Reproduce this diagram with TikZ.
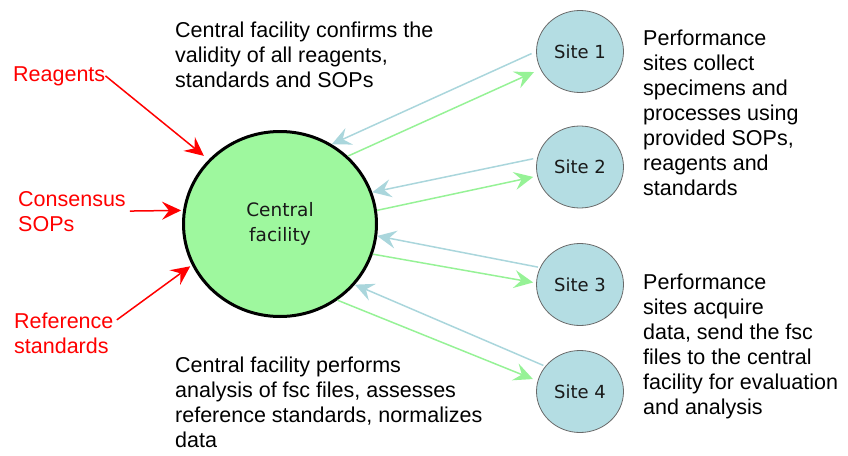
\documentclass[tikz,border=0pt]{standalone}
\usepackage{fontspec}
\setmainfont{Liberation Sans}
\newfontfamily\sitefont{DejaVu Sans}
\usepackage{xcolor}
\usetikzlibrary{positioning}
\usetikzlibrary{shapes.geometric}
\usetikzlibrary{arrows.meta}

\definecolor{facgreen}{RGB}{158,248,158}
\definecolor{sendgreen}{RGB}{150,242,150}
\definecolor{siteblue}{RGB}{180,221,227}
\definecolor{backblue}{RGB}{170,214,220}
\definecolor{rimgray}{RGB}{105,105,105}

\tikzset{
	facility/.style={ellipse, draw=black, line width=3pt, fill=facgreen, minimum width=193pt, minimum height=185pt, inner sep=0pt, align=center, text=black!90, font=\sitefont\fontsize{18.5}{25}\selectfont},
	site/.style={ellipse, draw=rimgray, line width=0.8pt, fill=siteblue, minimum width=87pt, minimum height=82pt, inner sep=0pt, text=black!90, font=\sitefont\fontsize{18}{20}\selectfont},
	note/.style={anchor=base west, align=left, inner sep=0pt, font=\fontsize{21.5}{25}\selectfont},
	input/.style={note, text=red},
	tosite/.style={draw=sendgreen, line width=1.5pt, -{Stealth[length=19pt,width=18pt,inset=7pt]}},
	tofac/.style={draw=backblue, line width=1.5pt, -{Stealth[length=19pt,width=18pt,inset=7pt]}},
	feed/.style={draw=red, line width=1.5pt, -{Stealth[length=19pt,width=18pt,inset=7pt]}}
}

\begin{document}
\begin{tikzpicture}[x=1pt, y=-1pt]
	\useasboundingbox (0, 0) rectangle (848, 455);
	% central facility and the four sites
	\node[facility] (fac) at (280, 224) {Central\\facility};
	\node[site] (s1) at (580, 51.5) {Site 1};
	\node[site] (s2) at (580, 167) {Site 2};
	\node[site] (s3) at (580, 284.5) {Site 3};
	\node[site] (s4) at (580, 391.5) {Site 4};
	% notes (placed by the baseline of their last line)
	\node[note] (topnote) at (175, 87) {Central facility confirms the\\validity of all reagents,\\standards and SOPs};
	\node[note] (botnote) at (175, 447) {Central facility performs\\analysis of fsc files, assesses\\reference standards, normalizes\\data};
	\node[note] (collect) at (643, 195) {Performance\\sites collect\\specimens and\\processes using\\provided SOPs,\\reagents and\\standards};
	\node[note] (acquire) at (643, 414) {Performance\\sites acquire\\data, send the fsc\\files to the central\\facility for evaluation\\and analysis};
	% inputs
	\node[input] (reag) at (13, 81) {Reagents};
	\node[input] (cons) at (18, 231) {Consensus\\SOPs};
	\node[input] (refs) at (14, 353) {Reference\\standards};
	\draw[feed, shorten >=6pt] (reag.east) -- (fac.138);
	\draw[feed, shorten <=4pt, shorten >=2pt] (cons.east) -- (fac.172);
	\draw[feed, shorten <=4pt, shorten >=2pt] (refs.12) -- (fac.205);
	% site 1
	\draw[tofac, shorten <=5pt] (s1.180) -- (fac.57);
	\draw[tosite, shorten >=7pt] (fac.45) -- (s1.204);
	% site 2
	\draw[tofac, shorten <=4pt] (s2.168) -- (fac.19);
	\draw[tosite, shorten >=4pt] (fac.8) -- (s2.192);
	% site 3
	\draw[tofac, shorten <=2pt] (s3.157) -- (fac.-7);
	\draw[tosite, shorten >=3pt] (fac.-18) -- (s3.178);
	% site 4
	\draw[tofac, shorten <=2pt] (s4.144) -- (fac.-39);
	\draw[tosite, shorten >=5pt] (fac.-53) -- (s4.166);
\end{tikzpicture}
\end{document}
